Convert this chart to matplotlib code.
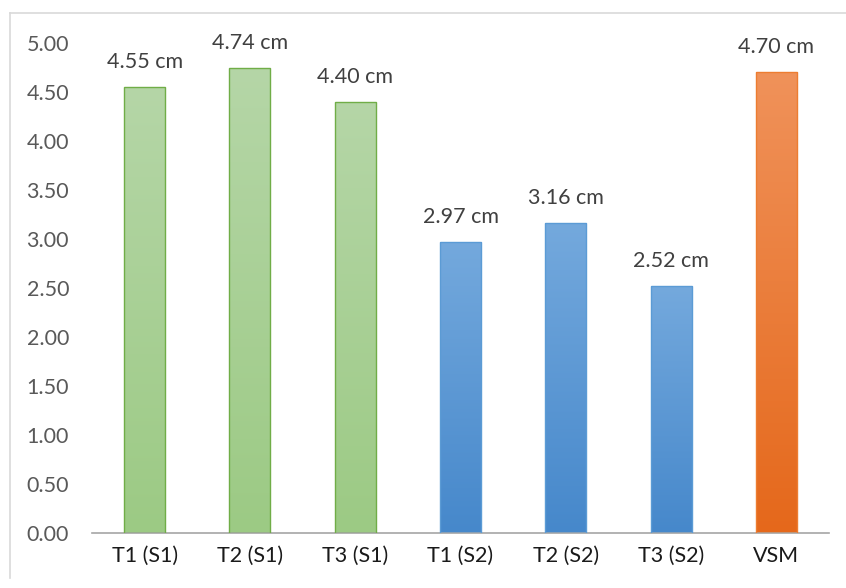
import numpy as np
import matplotlib
matplotlib.use("Agg")
import matplotlib.pyplot as plt
from matplotlib.colors import LinearSegmentedColormap
from matplotlib.lines import Line2D

plt.rcParams['font.family'] = ['Lato', 'DejaVu Sans']

categories = ["T1 (S1)", "T2 (S1)", "T3 (S1)", "T1 (S2)", "T2 (S2)", "T3 (S2)", "VSM"]
values = [4.55, 4.74, 4.40, 2.97, 3.16, 2.52, 4.70]
groups = ["green", "green", "green", "blue", "blue", "blue", "orange"]
yticks = [0, 0.5, 1.0, 1.5, 2.0, 2.5, 3.0, 3.5, 4.0, 4.5, 5.0]

# top color, bottom color, edge color
palette = {
    "green": ("#b5d6a7", "#9cca84", "#70ad47"),
    "blue": ("#74a9dd", "#4688cb", "#5b9bd5"),
    "orange": ("#f0925a", "#e5681b", "#ed7d31"),
}

fig = plt.figure(figsize=(8.46, 5.88), dpi=100)
ax = fig.add_axes([92 / 846, 1 - 533 / 588, 737 / 846, 490 / 588])

x = np.arange(len(categories))
width = 0.39
bars = ax.bar(x, values, width=width, color="none", zorder=3)
for bar, grp in zip(bars, groups):
    top, bottom, edge = palette[grp]
    cmap = LinearSegmentedColormap.from_list(grp, [bottom, top])
    bx, by = bar.get_x(), bar.get_y()
    bw, bh = bar.get_width(), bar.get_height()
    grad = np.linspace(0, 1, 256).reshape(-1, 1)
    im = ax.imshow(grad, cmap=cmap, aspect="auto", origin="lower",
                   extent=[bx, bx + bw, by, by + bh], zorder=2)
    im.set_clip_path(bar)
    bar.set_edgecolor(edge)
    bar.set_linewidth(1.0)

for xi, v in zip(x, values):
    ax.annotate(f"{v:.2f} cm", (xi, v), xytext=(0, 11), textcoords="offset points",
                ha="center", va="bottom", fontsize=15.5, color="#404040")

ax.set_xlim(-0.5, len(categories) - 0.5)
ax.set_ylim(0, 5.0)
ax.set_yticks(yticks)
ax.set_yticklabels([f"{t:.2f}" for t in yticks])
ax.set_xticks(x)
ax.set_xticklabels(categories)
ax.tick_params(axis="both", length=0, labelsize=15.5, colors="#595959")
ax.tick_params(axis="x", pad=9, colors="#1a1a1a")
ax.tick_params(axis="y", pad=16.5)
for s in ["top", "right", "left"]:
    ax.spines[s].set_visible(False)
ax.spines["bottom"].set_color("#a6a6a6")
ax.spines["bottom"].set_linewidth(1.2)

# outer chart border (left and top visible)
fig.add_artist(Line2D([10 / 846, 10 / 846], [1 - 578 / 588, 1 - 13 / 588],
                      color="#d9d9d9", lw=1.2))
fig.add_artist(Line2D([10 / 846, 1.0], [1 - 13 / 588, 1 - 13 / 588],
                      color="#d9d9d9", lw=1.2))

fig.savefig("out.png", dpi=100)
